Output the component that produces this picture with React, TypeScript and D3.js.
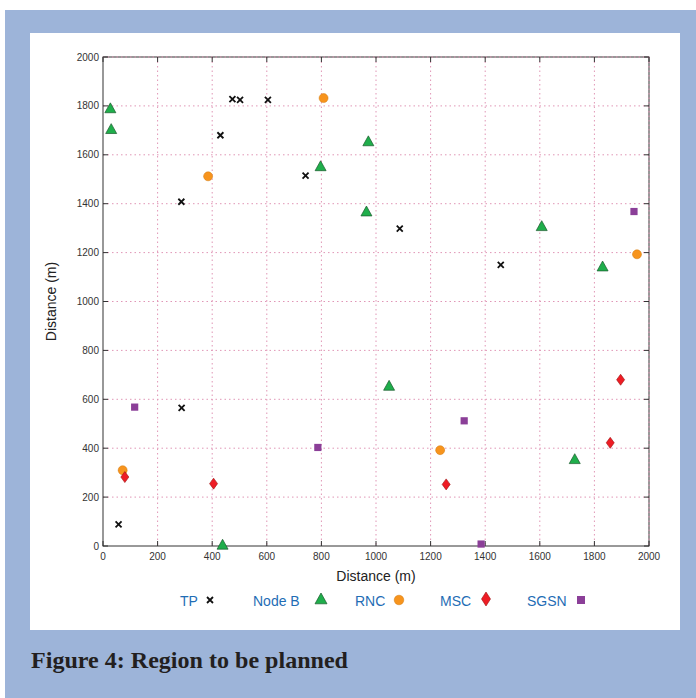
import React from "react";
import * as d3 from "d3";

type Pt = [number, number];

const tpPoints: Pt[] = [
  [287, 1408], [430, 1680], [474, 1828], [502, 1825], [604, 1825],
  [742, 1515], [1087, 1298], [1457, 1150], [288, 565], [57, 88],
];
const nodeBPoints: Pt[] = [
  [27, 1790], [30, 1705], [797, 1553], [972, 1655], [965, 1368],
  [1607, 1308], [1830, 1143], [1048, 655], [1728, 355], [438, 5],
];
const rncPoints: Pt[] = [
  [385, 1512], [808, 1832], [1956, 1193], [72, 310], [1235, 392],
];
const mscPoints: Pt[] = [
  [80, 282], [405, 255], [1257, 252], [1858, 422], [1896, 680],
];
const sgsnPoints: Pt[] = [
  [116, 568], [1945, 1368], [787, 403], [1323, 512], [1385, 8],
];
const xTicks = [0, 200, 400, 600, 800, 1000, 1200, 1400, 1600, 1800, 2000];
const yTicks = [0, 200, 400, 600, 800, 1000, 1200, 1400, 1600, 1800, 2000];
const legendLabels = ["TP", "Node B", "RNC", "MSC", "SGSN"];

const W = 696, H = 698;
const plot = { left: 103, right: 649, top: 57, bottom: 546 };
const colors = {
  bg: "#9db4d9",
  tp: "#111111",
  nodeB: "#1fae4b",
  rnc: "#f7941d",
  msc: "#ee1c24",
  sgsn: "#8b3f98",
  grid: "#e096b6",
  legend: "#1f6db5",
};
const sans = "'Liberation Sans', Arial, Helvetica, sans-serif";

function Cross({ x, y, s = 3 }: { x: number; y: number; s?: number }) {
  return (
    <path d={`M${x - s},${y - s}L${x + s},${y + s}M${x - s},${y + s}L${x + s},${y - s}`}
      stroke={colors.tp} strokeWidth={1.8} fill="none" />
  );
}
function Tri({ x, y, s = 5.5 }: { x: number; y: number; s?: number }) {
  return (
    <path d={`M${x},${y - s}L${x + s},${y + s * 0.8}L${x - s},${y + s * 0.8}Z`}
      fill={colors.nodeB} stroke="#1a5a2c" strokeWidth={0.7} />
  );
}
function Circ({ x, y, r = 4.5 }: { x: number; y: number; r?: number }) {
  return <circle cx={x} cy={y} r={r} fill={colors.rnc} stroke="#d07a10" strokeWidth={0.5} />;
}
function Dia({ x, y, w = 4, h = 5.5 }: { x: number; y: number; w?: number; h?: number }) {
  return (
    <path d={`M${x},${y - h}L${x + w},${y}L${x},${y + h}L${x - w},${y}Z`}
      fill={colors.msc} stroke="#9a1010" strokeWidth={0.6} />
  );
}
function Sq({ x, y, s = 3.6 }: { x: number; y: number; s?: number }) {
  return <rect x={x - s} y={y - s} width={2 * s} height={2 * s} fill={colors.sgsn} />;
}

export default function App() {
  const x = d3.scaleLinear().domain([0, 2000]).range([plot.left, plot.right]);
  const y = d3.scaleLinear().domain([0, 2000]).range([plot.bottom, plot.top]);
  const tickLen = 5;
  const legendY = 601;
  const legendItems = [
    { label: legendLabels[0], tx: 180, mx: 210, m: (mx: number) => <Cross x={mx} y={legendY - 1} s={3} /> },
    { label: legendLabels[1], tx: 253, mx: 321, m: (mx: number) => <Tri x={mx} y={legendY - 2} s={6} /> },
    { label: legendLabels[2], tx: 355, mx: 399, m: (mx: number) => <Circ x={mx} y={legendY - 1} r={4.8} /> },
    { label: legendLabels[3], tx: 440, mx: 486, m: (mx: number) => <Dia x={mx} y={legendY - 2} w={4.5} h={7} /> },
    { label: legendLabels[4], tx: 527, mx: 581, m: (mx: number) => <Sq x={mx} y={legendY - 1} s={4} /> },
  ];
  const dash = "1.5,3";
  return (
    <svg width={W} height={H} style={{ position: "absolute", left: 0, top: 0 }}>
      <rect x={0} y={0} width={W} height={H} fill="#ffffff" />
      <rect x={5} y={10} width={W - 5} height={H - 10} fill={colors.bg} />
      <rect x={30} y={33} width={650} height={597} fill="#ffffff" />

      {/* grid */}
      {xTicks.slice(1, -1).map((t) => (
        <line key={"gx" + t} x1={x(t)} x2={x(t)} y1={plot.top} y2={plot.bottom}
          stroke={colors.grid} strokeWidth={1} strokeDasharray={dash} />
      ))}
      {yTicks.slice(1, -1).map((t) => (
        <line key={"gy" + t} x1={plot.left} x2={plot.right} y1={y(t)} y2={y(t)}
          stroke={colors.grid} strokeWidth={1} strokeDasharray={dash} />
      ))}

      {/* frame */}
      <rect x={plot.left} y={plot.top} width={plot.right - plot.left} height={plot.bottom - plot.top}
        fill="none" stroke="#333" strokeWidth={1} />
      <line x1={plot.left} x2={plot.right} y1={plot.top} y2={plot.top}
        stroke={colors.grid} strokeWidth={1} strokeDasharray={dash} />
      <line x1={plot.right} x2={plot.right} y1={plot.top} y2={plot.bottom}
        stroke={colors.grid} strokeWidth={1} strokeDasharray={dash} />
      {xTicks.map((t) => (
        <g key={"tx" + t}>
          <line x1={x(t)} x2={x(t)} y1={plot.bottom} y2={plot.bottom - tickLen} stroke="#333" />
          <line x1={x(t)} x2={x(t)} y1={plot.top} y2={plot.top + tickLen} stroke="#333" />
          <text x={x(t)} y={plot.bottom + 14} textAnchor="middle" fontFamily={sans} fontSize={10} fill="#333">{t}</text>
        </g>
      ))}
      {yTicks.map((t) => (
        <g key={"ty" + t}>
          <line x1={plot.left} x2={plot.left + tickLen} y1={y(t)} y2={y(t)} stroke="#333" />
          <line x1={plot.right} x2={plot.right - tickLen} y1={y(t)} y2={y(t)} stroke="#333" />
          <text x={plot.left - 4} y={y(t) + 3.5} textAnchor="end" fontFamily={sans} fontSize={10} fill="#333">{t}</text>
        </g>
      ))}

      <text x={(plot.left + plot.right) / 2} y={581} textAnchor="middle" fontFamily={sans} fontSize={14} fill="#222">Distance (m)</text>
      <text transform={`translate(56,${(plot.top + plot.bottom) / 2}) rotate(-90)`} textAnchor="middle"
        fontFamily={sans} fontSize={14} fill="#222">Distance (m)</text>

      {/* markers */}
      {tpPoints.map((p, i) => <Cross key={"tp" + i} x={x(p[0])} y={y(p[1])} />)}
      {nodeBPoints.map((p, i) => <Tri key={"nb" + i} x={x(p[0])} y={y(p[1])} />)}
      {rncPoints.map((p, i) => <Circ key={"rn" + i} x={x(p[0])} y={y(p[1])} />)}
      {mscPoints.map((p, i) => <Dia key={"ms" + i} x={x(p[0])} y={y(p[1])} />)}
      {sgsnPoints.map((p, i) => <Sq key={"sg" + i} x={x(p[0])} y={y(p[1])} />)}

      {/* legend */}
      {legendItems.map((it) => (
        <g key={it.label}>
          <text x={it.tx} y={legendY + 5} fontFamily={sans} fontSize={14} fill={colors.legend}>{it.label}</text>
          {it.m(it.mx)}
        </g>
      ))}

      <text x={31} y={668} fontFamily="'Liberation Serif', 'Times New Roman', serif" fontWeight="bold"
        fontSize={23} fill="#231f20" textLength={317} lengthAdjust="spacingAndGlyphs">Figure 4: Region to be planned</text>
    </svg>
  );
}
